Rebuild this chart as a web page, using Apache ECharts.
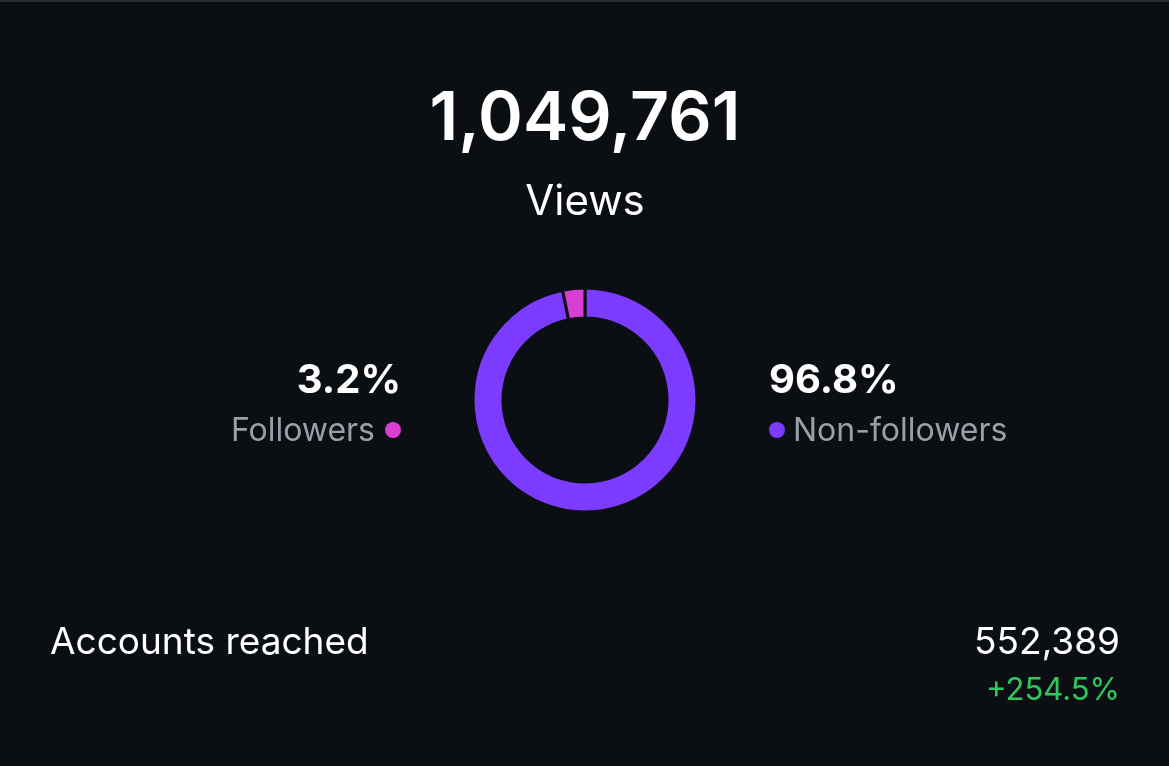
<!DOCTYPE html>
<html>
<head>
<meta charset="utf-8">
<script src="https://cdn.jsdelivr.net/npm/echarts@6/dist/echarts.min.js"></script>
<style>
html,body{margin:0;padding:0;background:#0b0f14}
#chart{width:1169px;height:766px}
</style>
</head>
<body>
<div id="chart"></div>
<script>
var categories = ['Non-followers', 'Followers'];
var shares = [96.8, 3.2];
var colors = ['#7b3cff', '#d93ed2'];
var totalViews = '1,049,761';
var reachedValue = '552,389';
var reachedChange = '+254.5%';

var font = 'Inter, "Noto Sans", sans-serif';
var chart = echarts.init(document.getElementById('chart'));

chart.setOption({
    backgroundColor: '#0b0f14',
    animation: false,
    series: [{
        type: 'pie',
        center: [585, 400],
        radius: [82, 112],
        startAngle: 90,
        clockwise: true,
        label: {show: false},
        labelLine: {show: false},
        silent: true,
        itemStyle: {borderColor: '#0b0f14', borderWidth: 3},
        data: categories.map(function (c, i) {
            return {name: c, value: shares[i], itemStyle: {color: colors[i]}};
        })
    }],
    graphic: [
        {type: 'rect', shape: {x: 0, y: 0, width: 1169, height: 2}, style: {fill: '#2a2e33'}},
        {type: 'text', x: 585, y: 120, style: {text: totalViews, font: '600 68px ' + font, fill: '#ffffff', align: 'center', verticalAlign: 'middle'}},
        {type: 'text', x: 585, y: 202, style: {text: 'Views', font: '400 42px ' + font, fill: '#ffffff', align: 'center', verticalAlign: 'middle'}},
        {type: 'text', x: 401, y: 381, style: {text: shares[1] + '%', font: '700 40px ' + font, fill: '#ffffff', align: 'right', verticalAlign: 'middle'}},
        {type: 'text', x: 375, y: 431, style: {text: categories[1], font: '400 32px ' + font, fill: '#9aa0a8', align: 'right', verticalAlign: 'middle'}},
        {type: 'circle', shape: {cx: 393, cy: 430, r: 8}, style: {fill: colors[1]}},
        {type: 'text', x: 769, y: 381, style: {text: shares[0] + '%', font: '700 40px ' + font, fill: '#ffffff', align: 'left', verticalAlign: 'middle'}},
        {type: 'circle', shape: {cx: 777, cy: 430, r: 8}, style: {fill: colors[0]}},
        {type: 'text', x: 793, y: 431, style: {text: categories[0], font: '400 32px ' + font, fill: '#9aa0a8', align: 'left', verticalAlign: 'middle'}},
        {type: 'text', x: 50, y: 643, style: {text: 'Accounts reached', font: '400 37px ' + font, fill: '#ffffff', align: 'left', verticalAlign: 'middle'}},
        {type: 'text', x: 1120, y: 643, style: {text: reachedValue, font: '400 37px ' + font, fill: '#ffffff', align: 'right', verticalAlign: 'middle'}},
        {type: 'text', x: 1120, y: 691, style: {text: reachedChange, font: '400 31px ' + font, fill: '#2fc85f', align: 'right', verticalAlign: 'middle'}}
    ]
});
</script>
</body>
</html>
